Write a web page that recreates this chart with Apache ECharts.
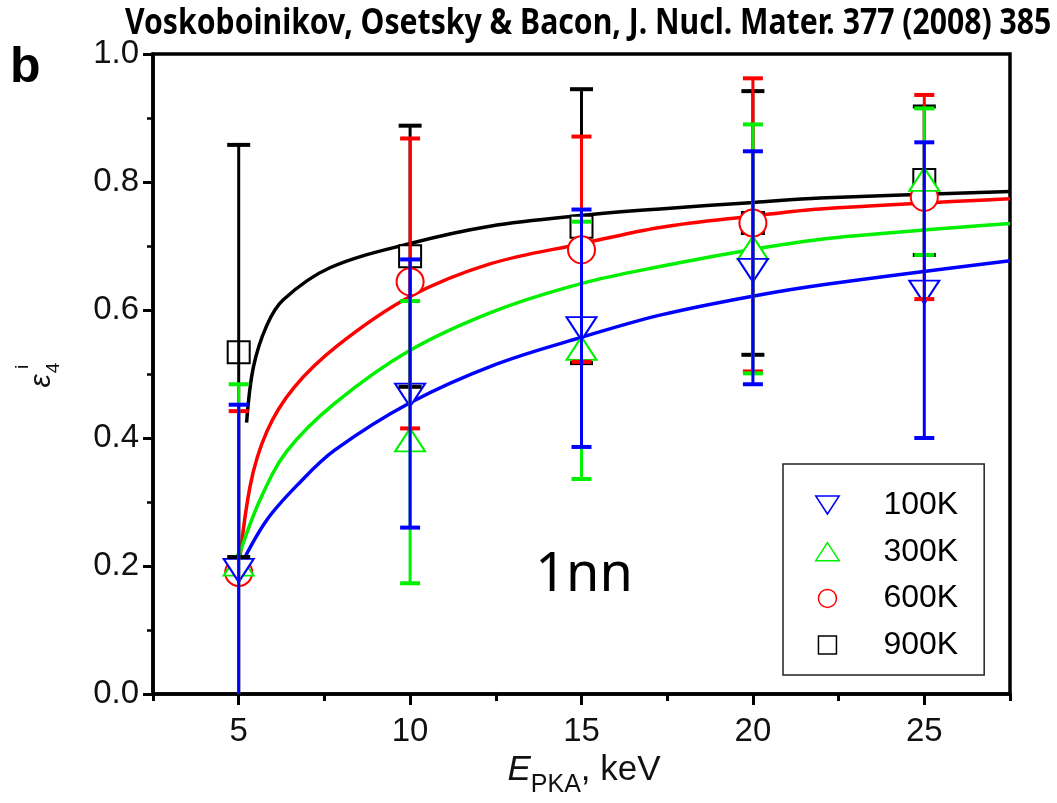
<!DOCTYPE html>
<html>
<head>
<meta charset="utf-8">
<script src="https://cdn.jsdelivr.net/npm/echarts@6/dist/echarts.min.js"></script>
<style>
  html, body { margin: 0; padding: 0; background: #fff; }
  #chart { width: 1057px; height: 803px; }
</style>
</head>
<body>
<div id="chart"></div>
<script>
// PKA energies (keV)
const energies = [5, 10, 15, 20, 25];

// 100 K: mean, lower and upper error limits
const eps100   = [0.193, 0.467, 0.571, 0.662, 0.628];
const eps100Lo = [-0.065, 0.260, 0.386, 0.484, 0.400];
const eps100Hi = [0.452, 0.679, 0.757, 0.848, 0.862];

// 300 K
const eps300   = [0.203, 0.397, 0.540, 0.697, 0.804];
const eps300Lo = [-0.075, 0.173, 0.336, 0.501, 0.686];
const eps300Hi = [0.484, 0.614, 0.738, 0.890, 0.915];

// 600 K
const eps600   = [0.190, 0.644, 0.694, 0.736, 0.776];
const eps600Lo = [-0.060, 0.415, 0.519, 0.504, 0.617];
const eps600Hi = [0.442, 0.868, 0.871, 0.962, 0.936];

// 900 K
const eps900   = [0.534, 0.684, 0.730, 0.736, 0.803];
const eps900Lo = [0.214, 0.480, 0.517, 0.530, 0.686];
const eps900Hi = [0.858, 0.888, 0.945, 0.942, 0.918];

// fitted curves, sampled as [E, value]
const fit100 = [[5.05, 0.200], [5.82, 0.272], [6.79, 0.331], [7.8, 0.381], [10, 0.455], [12.5, 0.515],
                [15.04, 0.558], [17.29, 0.592], [20.03, 0.622], [22.25, 0.641], [27.5, 0.677]];
const fit300 = [[5.0, 0.215], [5.62, 0.303], [6.4, 0.379], [7.8, 0.454], [10, 0.537], [12.5, 0.599],
                [15.04, 0.642], [17.29, 0.668], [20.03, 0.695], [22.25, 0.712], [27.5, 0.735]];
const fit600 = [[4.95, 0.168], [5.33, 0.324], [5.82, 0.410], [6.6, 0.478], [7.9, 0.545], [10, 0.621],
                [12.33, 0.672], [15.04, 0.704], [17.29, 0.729], [20.03, 0.747], [21.96, 0.758], [27.5, 0.774]];
const fit900 = [[5.23, 0.424], [5.43, 0.511], [5.82, 0.576], [6.3, 0.616], [7.66, 0.666], [10, 0.704],
                [12.33, 0.731], [15.04, 0.748], [17.29, 0.758], [20.03, 0.768], [21.96, 0.775], [27.5, 0.785]];

// axis ticks
const xTicks = [5, 10, 15, 20, 25];
const xMinorTicks = [2.5, 7.5, 12.5, 17.5, 22.5, 27.5];
const yTicks = [0, 0.2, 0.4, 0.6, 0.8, 1.0];

const SANS = "'Liberation Sans', Arial, sans-serif";

// drawing order: 900K at the bottom, 100K on top
const temps = [
  { name: '900K', color: '#000000', mean: eps900, lo: eps900Lo, hi: eps900Hi, fit: fit900,
    symbol: 'rect', size: 22, legendIcon: 'path://M0,0H20V20H0Z', cap: 11.5 },
  { name: '600K', color: '#ff0000', mean: eps600, lo: eps600Lo, hi: eps600Hi, fit: fit600,
    symbol: 'circle', size: 27, legendIcon: 'circle', cap: 10 },
  { name: '300K', color: '#00f000', mean: eps300, lo: eps300Lo, hi: eps300Hi, fit: fit300,
    symbol: 'path://M15,0L30,23L0,23Z', size: [30, 23], legendIcon: 'path://M13,0L26,20L0,20Z', cap: 10 },
  { name: '100K', color: '#0000ff', mean: eps100, lo: eps100Lo, hi: eps100Hi, fit: fit100,
    symbol: 'path://M0,0L30,0L15,23Z', size: [30, 23], legendIcon: 'path://M0,0L26,0L13,20Z', cap: 10 }
];

function errorBarRenderer(color, cap) {
  return function (params, api) {
    const x = api.value(0);
    const pLo = api.coord([x, api.value(1)]);
    const pHi = api.coord([x, api.value(2)]);
    const bar = { stroke: color, lineWidth: 3 };
    const capStyle = { stroke: color, lineWidth: 4 };
    return {
      type: 'group',
      children: [
        { type: 'line', shape: { x1: pLo[0], y1: pLo[1], x2: pHi[0], y2: pHi[1] }, style: bar },
        { type: 'line', shape: { x1: pHi[0] - cap, y1: pHi[1], x2: pHi[0] + cap, y2: pHi[1] }, style: capStyle },
        { type: 'line', shape: { x1: pLo[0] - cap, y1: pLo[1], x2: pLo[0] + cap, y2: pLo[1] }, style: capStyle }
      ]
    };
  };
}

const series = [];
temps.forEach(function (t) {
  series.push({
    name: t.name + ' fit', type: 'line', data: t.fit, showSymbol: false,
    smooth: 0.35, z: 2, silent: true,
    lineStyle: { color: t.color, width: 3.5 }
  });
});
temps.forEach(function (t) {
  series.push({
    name: t.name, type: 'scatter', z: 3,
    data: energies.map(function (e, i) { return [e, t.mean[i]]; }),
    symbol: t.symbol, symbolSize: t.size,
    itemStyle: { color: '#ffffff', borderColor: t.color, borderWidth: 2, opacity: 1 }
  });
});
temps.forEach(function (t) {
  series.push({
    name: t.name + ' err', type: 'custom', z: 4, clip: true,
    renderItem: errorBarRenderer(t.color, t.cap),
    encode: { x: 0, y: [1, 2] },
    data: energies.map(function (e, i) { return [e, t.lo[i], t.hi[i]]; })
  });
});

const legendOrder = ['100K', '300K', '600K', '900K'];

const option = {
  animation: false,
  backgroundColor: '#ffffff',
  grid: {
    left: 153, right: 47, top: 54, bottom: 109,
    show: true, borderColor: '#000', borderWidth: 3.5, backgroundColor: 'transparent'
  },
  xAxis: [
    {
      type: 'value', min: 2.5, max: 27.5, interval: 2.5,
      axisLine: { show: true, onZero: false, lineStyle: { color: '#000', width: 3.5 } },
      axisTick: { show: true, customValues: xTicks, length: 11, lineStyle: { color: '#000', width: 3 } },
      axisLabel: {
        customValues: xTicks, margin: 21, color: '#111', fontSize: 33, fontFamily: SANS,
        formatter: function (v) { return String(v); }
      },
      splitLine: { show: false }
    },
    {
      type: 'value', min: 2.5, max: 27.5, interval: 2.5, position: 'bottom',
      axisLine: { show: false },
      axisTick: { show: true, customValues: xMinorTicks, length: 7, lineStyle: { color: '#000', width: 3 } },
      axisLabel: { show: false },
      splitLine: { show: false }
    }
  ],
  yAxis: {
    type: 'value', min: 0, max: 1, interval: 0.2,
    axisLine: { show: true, onZero: false, lineStyle: { color: '#000', width: 3.5 } },
    axisTick: { show: true, length: 10, lineStyle: { color: '#000', width: 3 } },
    minorTick: { show: true, splitNumber: 2, length: 6, lineStyle: { color: '#000', width: 2.5 } },
    axisLabel: {
      customValues: yTicks, margin: 14, color: '#111', fontSize: 33, fontFamily: SANS,
      formatter: function (v) { return v.toFixed(1); }
    },
    splitLine: { show: false }
  },
  legend: {
    data: legendOrder.map(function (n) {
      const t = temps.find(function (s) { return s.name === n; });
      return { name: n, icon: t.legendIcon,
               itemStyle: { color: '#ffffff', borderColor: t.color, borderWidth: 1.5 } };
    }),
    orient: 'vertical', left: 783, top: 464,
    padding: [25, 26, 14, 32], itemGap: 14.7, itemWidth: 50, itemHeight: 18,
    symbolKeepAspect: true, symbolRotate: 0, selectedMode: false,
    backgroundColor: '#ffffff', borderColor: '#222', borderWidth: 1.5,
    textStyle: { fontFamily: SANS, fontSize: 32, lineHeight: 32,
                 color: '#000', padding: [0, 0, 0, 26] }
  },
  graphic: [
    {
      type: 'text', x: 125, y: 24, scaleX: 0.862, z: 10,
      style: {
        text: 'Voskoboinikov, Osetsky & Bacon, J. Nucl. Mater. 377 (2008) 385',
        fontFamily: "'Noto Sans', sans-serif", fontWeight: 'bold', fontSize: 35,
        fill: '#000', align: 'left', verticalAlign: 'middle'
      }
    },
    {
      type: 'text', x: 10, y: 68, z: 10,
      style: { text: 'b', fontFamily: SANS, fontWeight: 'bold',
               fontSize: 50, fill: '#000', align: 'left', verticalAlign: 'middle' }
    },
    {
      type: 'text', x: 584, y: 576, z: 10,
      style: { text: '1nn', fontFamily: "'Noto Sans', sans-serif", fontSize: 54,
               fill: '#000', align: 'center', verticalAlign: 'middle' }
    },
    {
      type: 'text', x: 584, y: 753, z: 10,
      style: {
        text: '{e|E}{s|PKA}{n|, keV}', align: 'center', verticalAlign: 'top', fill: '#111',
        rich: {
          e: { fontStyle: 'italic', fontSize: 35, lineHeight: 38, verticalAlign: 'top', fontFamily: SANS, fill: '#111' },
          s: { fontSize: 25, lineHeight: 26, padding: [20, 0, 0, 0], verticalAlign: 'top', fontFamily: SANS, fill: '#111' },
          n: { fontSize: 35, lineHeight: 38, verticalAlign: 'top', fontFamily: SANS, fill: '#111' }
        }
      }
    },
    {
      type: 'group', x: 42, y: 381, rotation: Math.PI / 2, z: 10,
      children: [
        { type: 'text', x: 0, y: 0,
          style: { text: 'ε', fontStyle: 'italic', fontSize: 30, fontFamily: SANS,
                   fill: '#111', align: 'center', verticalAlign: 'middle' } },
        { type: 'text', x: 14, y: -19,
          style: { text: 'i', fontSize: 19, fontFamily: SANS,
                   fill: '#111', align: 'center', verticalAlign: 'middle' } },
        { type: 'text', x: 13, y: 12,
          style: { text: '4', fontSize: 19, fontFamily: SANS,
                   fill: '#111', align: 'center', verticalAlign: 'middle' } }
      ]
    }
  ],
  series: series
};

const chart = echarts.init(document.getElementById('chart'), null, { renderer: 'canvas' });
chart.setOption(option);
</script>
</body>
</html>
